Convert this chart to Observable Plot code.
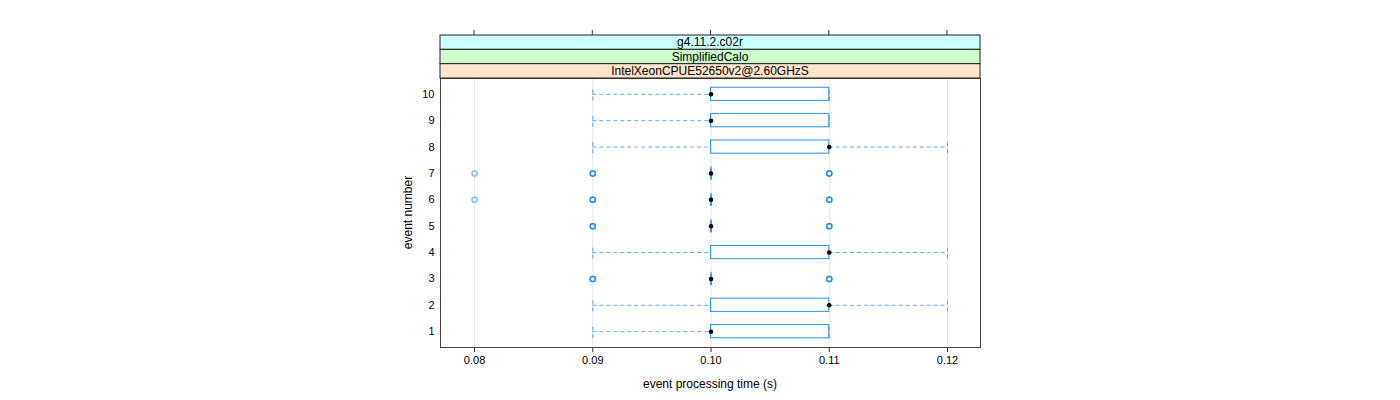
<!DOCTYPE html>
<html>
<head>
<meta charset="utf-8">
<script src="https://cdn.jsdelivr.net/npm/d3@7"></script>
<script src="https://cdn.jsdelivr.net/npm/@observablehq/plot@0.6"></script>
<style>
  html, body { margin: 0; padding: 0; background: #fff; }
  svg { display: block; }
</style>
</head>
<body>
<div id="chart"></div>
<script>
// ---- data ----
const events      = [1, 2, 3, 4, 5, 6, 7, 8, 9, 10];
const lowWhisker  = [0.09, 0.09, 0.10, 0.09, 0.10, 0.10, 0.10, 0.09, 0.09, 0.09];
const q1          = [0.10, 0.10, 0.10, 0.10, 0.10, 0.10, 0.10, 0.10, 0.10, 0.10];
const medians     = [0.10, 0.11, 0.10, 0.11, 0.10, 0.10, 0.10, 0.11, 0.10, 0.10];
const q3          = [0.11, 0.11, 0.10, 0.11, 0.10, 0.10, 0.10, 0.11, 0.11, 0.11];
const highWhisker = [0.11, 0.12, 0.10, 0.12, 0.10, 0.10, 0.10, 0.12, 0.11, 0.11];
const outlierEvent = [3, 3, 3, 3, 3, 3,  5, 5, 5, 5, 5, 5,  6, 6, 6, 6, 6, 6, 6,  7, 7, 7, 7, 7, 7, 7];
const outlierTime  = [0.09, 0.09, 0.09, 0.11, 0.11, 0.11,
                      0.09, 0.09, 0.09, 0.11, 0.11, 0.11,
                      0.08, 0.09, 0.09, 0.09, 0.11, 0.11, 0.11,
                      0.08, 0.09, 0.09, 0.09, 0.11, 0.11, 0.11];
const xTicks = [0.08, 0.09, 0.10, 0.11, 0.12];
const stripLabels = ["g4.11.2.c02r", "SimplifiedCalo", "IntelXeonCPUE52650v2@2.60GHzS"];
const stripColors = ["#ccffff", "#ccffcc", "#ffe5cc"];
const xLabel = "event processing time (s)";
const yLabel = "event number";

const stats = events.map((e, i) => ({
  event: e, low: lowWhisker[i], q1: q1[i], median: medians[i], q3: q3[i], high: highWhisker[i]
}));
const outliers = outlierEvent.map((e, i) => ({event: e, time: outlierTime[i]}));

const blue = "#0080ff";
const half = 0.25;
const font = "'Liberation Sans', Arial, Helvetica, sans-serif";

const plot = Plot.plot({
  width: 1400,
  height: 400,
  marginLeft: 440,
  marginRight: 420,
  marginTop: 78,
  marginBottom: 53,
  style: {fontFamily: font, fontSize: "11px", color: "#000", background: "#fff"},
  x: {domain: [0.07712, 0.12279], ticks: xTicks},
  y: {domain: [0.4, 10.6], ticks: events},
  marks: [
    Plot.gridX(xTicks, {stroke: "#e6e6e6", strokeOpacity: 1}),
    Plot.axisX({anchor: "bottom", ticks: xTicks, tickSize: 5, tickPadding: 4,
      tickFormat: d3.format(".2f"), label: null, stroke: "#333", fontSize: 11}),
    Plot.axisY({anchor: "left", ticks: events, tickSize: 0, tickPadding: 6,
      label: null, fontSize: 11}),
    // whiskers
    Plot.ruleY(stats, {y: "event", x1: "low", x2: "q1", stroke: blue, strokeOpacity: 0.65, strokeDasharray: "4,3"}),
    Plot.ruleY(stats, {y: "event", x1: "q3", x2: "high", stroke: blue, strokeOpacity: 0.65, strokeDasharray: "4,3"}),
    Plot.ruleX(stats, {x: "low", y1: d => d.event - half, y2: d => d.event + half, stroke: blue, strokeOpacity: 0.65, strokeDasharray: "4,3"}),
    Plot.ruleX(stats, {x: "high", y1: d => d.event - half, y2: d => d.event + half, stroke: blue, strokeOpacity: 0.65, strokeDasharray: "4,3"}),
    // boxes
    Plot.rect(stats, {x1: "q1", x2: "q3", y1: d => d.event - half, y2: d => d.event + half,
      fill: "none", stroke: blue, strokeOpacity: 0.85, strokeWidth: 1, inset: 0}),
    Plot.ruleX(stats.filter(d => d.q1 === d.q3), {x: "q1", y1: d => d.event - half, y2: d => d.event + half, stroke: blue}),
    // outliers
    Plot.dot(outliers, {x: "time", y: "event", r: 2.6, stroke: blue, strokeWidth: 1.3, strokeOpacity: 0.55, fill: "none"}),
    // medians
    Plot.dot(stats, {x: "median", y: "event", r: 2.3, fill: "#000", stroke: "none"}),
    Plot.frame({stroke: "#444", strokeWidth: 1})
  ]
});

const svg = d3.select(plot);
const xs = plot.scale("x");
const [xl, xr] = xs.range;
const [yb, yt] = plot.scale("y").range; // bottom pixel, top pixel
const stripH = 14.33;
const stripTop = yt - stripH * stripLabels.length;
const g = svg.append("g");
stripLabels.forEach((lab, i) => {
  const y0 = stripTop + stripH * i;
  g.append("rect").attr("x", xl).attr("y", y0).attr("width", xr - xl).attr("height", stripH)
    .attr("fill", stripColors[i]).attr("stroke", "#222").attr("stroke-width", 1);
  g.append("text").attr("x", (xl + xr) / 2).attr("y", y0 + stripH / 2).attr("dy", "0.35em")
    .attr("text-anchor", "middle").attr("font-family", font).attr("font-size", 12).text(lab);
});
// top ticks above strips (no labels)
xTicks.forEach(t => {
  const px = xs.apply(t);
  g.append("line").attr("x1", px).attr("x2", px).attr("y1", stripTop - 5).attr("y2", stripTop)
    .attr("stroke", "#333").attr("stroke-width", 1);
});
svg.append("text").attr("x", (xl + xr) / 2).attr("y", 388).attr("text-anchor", "middle")
  .attr("font-family", font).attr("font-size", 12).text(xLabel);
svg.append("text").attr("transform", `translate(412,${(yt + yb) / 2}) rotate(-90)`)
  .attr("text-anchor", "middle").attr("font-family", font).attr("font-size", 12).text(yLabel);

document.getElementById("chart").appendChild(plot);
</script>
</body>
</html>
